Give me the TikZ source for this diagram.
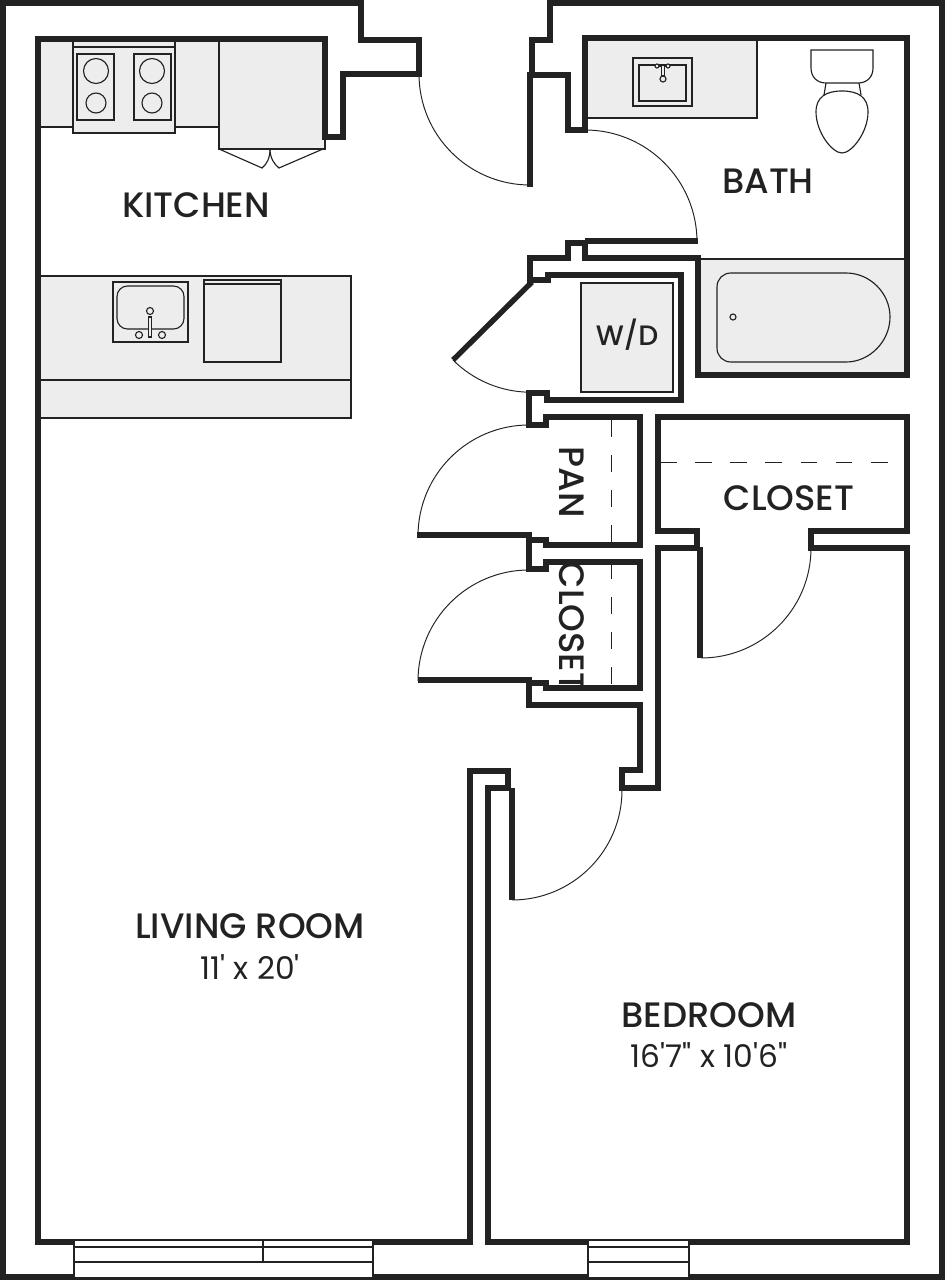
\documentclass[tikz,border=0pt]{standalone}
\usepackage{fontspec}
\setmainfont{Poppins}
\newfontfamily\namefont{Poppins Medium}
\newfontfamily\sizefont{Poppins}
\definecolor{wallink}{HTML}{222222}
\definecolor{counter}{HTML}{EDEDED}
\tikzset{
    wall/.style={draw=wallink,line width=3.05pt,miter limit=10},
    fixture/.style={draw=wallink,line width=.65pt},
    swing/.style={draw=wallink,line width=.55pt},
    guide/.style={draw=wallink,line width=.55pt,dash pattern=on 9.5pt off 10.5pt},
    roomname/.style={text=wallink,inner sep=0pt,font=\namefont\fontsize{20.1}{22}\selectfont},
    roomsize/.style={text=wallink,inner sep=0pt,font=\sizefont\fontsize{17.8}{20}\selectfont},
}
\begin{document}
\begin{tikzpicture}[x=.02cm,y=-.02cm]
    \useasboundingbox (0,0) rectangle (945,1280);
    % counters and appliances
    \draw[fixture,fill=counter] (38,39) rectangle (219,127);
    \draw[fixture,fill=counter] (73,39) rectangle (175,133);
    \draw[fixture] (73,47) -- (175,47);
    \draw[fixture] (77,54) rectangle (114,120);
    \draw[fixture] (134,54) rectangle (171,120);
    \foreach \burner in {96,152} {
        \draw[fixture] (\burner,71) circle (12.5);
        \draw[fixture] (\burner,103) circle (10);
    }
    \draw[fixture,fill=counter] (219,39) rectangle (325,149);
    \draw[fixture] (219,149) -- (262,168) .. controls (267,164) and (270,158) .. (270,149);
    \draw[fixture] (323,149) -- (279,168) .. controls (274,164) and (270,158) .. (270,149);
    \draw[fixture,fill=counter] (38,276) rectangle (351,418);
    \draw[fixture] (38,380) -- (351,380);
    \draw[fixture] (113,282) rectangle (188,342);
    \draw[fixture,rounded corners=6] (117,286) rectangle (184,329);
    \draw[fixture,fill=counter] (148.5,317) rectangle (151.5,337);
    \draw[fixture,fill=counter] (150,311) circle (3.5);
    \draw[fixture] (139,335) circle (3.5);
    \draw[fixture] (162,335) circle (3.5);
    \draw[fixture] (204,280) rectangle (281,362);
    \draw[fixture] (204,284) -- (281,284);
    % bath
    \draw[fixture,fill=counter] (585,38) rectangle (757,118);
    \draw[fixture] (633,58) rectangle (692,106);
    \draw[fixture] (639,65) rectangle (686,101);
    \draw[fixture] (657,66) -- (668,66);
    \draw[fixture,fill=counter] (657,66) circle (2);
    \draw[fixture,fill=counter] (668,66) circle (2);
    \draw[fixture,fill=counter] (661.5,65) rectangle (664.5,76);
    \draw[fixture,fill=counter] (663,79) circle (3);
    \draw[fixture] (811,50) -- (873,50) -- (873,68) .. controls (873,77) and (867,83) .. (858,83) -- (826,83) .. controls (817,83) and (811,77) .. (811,68) -- cycle;
    \draw[fixture] (826,83) -- (824,95);
    \draw[fixture] (859,83) -- (861,95);
    \draw[fixture] (842,91) .. controls (858,91) and (868,97) .. (868,112) .. controls (868,132) and (852,153) .. (842,153) .. controls (832,153) and (816,132) .. (816,112) .. controls (816,97) and (826,91) .. (842,91) -- cycle;
    \draw[fixture,fill=counter] (698,259) rectangle (907,375);
    \draw[fixture] (731,273) -- (846,273) .. controls (870,273) and (890,293) .. (890,317) .. controls (890,341) and (870,362) .. (846,362) -- (731,362) .. controls (723,362) and (717,356) .. (717,348) -- (717,287) .. controls (717,279) and (723,273) .. (731,273) -- cycle;
    \draw[fixture] (733,317) circle (3);
    \draw[fixture,fill=counter] (581,283) rectangle (673,392);
    % dashed shelf lines
    \draw[guide] (611,420) -- (611,545);
    \draw[guide] (611,562) -- (611,688);
    \draw[guide] (660,462) -- (905,462);
    % door swings
    \draw[swing] (419,74) arc (180:90:111);
    \draw[swing] (585,130) arc (270:360:112);
    \draw[swing] (453,360) arc (135:90:110);
    \draw[swing] (529,425) arc (270:180:111);
    \draw[swing] (529,570) arc (270:180:111);
    \draw[swing] (811,548) arc (0:90:110);
    \draw[swing] (622,790) arc (0:90:110);
    % walls
    \draw[wall] (532,75) -- (532,40) -- (550,40) -- (550,3) -- (942,3) -- (942,1277) -- (3,1277) -- (3,3) -- (361,3) -- (361,40) -- (419,40) -- (419,74) -- (343,74) -- (343,137) -- (325,137) -- (325,39) -- (38,39) -- (38,1242) -- (470,1242) -- (470,771) -- (508,771) -- (508,788) -- (488,788) -- (488,1242) -- (907,1242) -- (907,548) -- (811,548) -- (811,531) -- (907,531) -- (907,417) -- (658,417) -- (658,531) -- (697,531) -- (697,548) -- (658,548) -- (658,788) -- (622,788) -- (622,770) -- (640,770) -- (640,705) -- (529,705) -- (529,680) -- (418,680);
    \draw[wall] (512,788) -- (512,900);
    \draw[wall] (700,547) -- (700,658);
    \draw[wall] (529,680) -- (529,683) -- (546,683) -- (546,688) -- (640,688) -- (640,562) -- (546,562) -- (546,569) -- (529,569) -- (529,540) -- (546,540) -- (546,545) -- (640,545) -- (640,417) -- (546,417) -- (546,425) -- (529,425) -- (529,393) -- (547,393) -- (547,400) -- (681,400) -- (681,275) -- (548,275) -- (548,280) -- (530,280) -- (530,258) -- (568,258) -- (568,243) -- (585,243) -- (585,258) -- (698,258) -- (698,375) -- (907,375) -- (907,38) -- (585,38) -- (585,130) -- (568,130) -- (568,75) -- (530,75) -- (530,187);
    \draw[wall] (532,282) -- (453,360);
    \draw[wall] (417,535) -- (529,535) -- (529,540);
    \draw[wall] (585,241) -- (698,241);
    % windows
    \foreach \winleft/\winright in {74/373,588/689} {
        \draw[fixture,fill=white] (\winleft,1240) rectangle (\winright,1278);
        \draw[fixture] (\winleft,1247) -- (\winright,1247);
        \draw[fixture] (\winleft,1262) -- (\winright,1262);
    }
    \draw[fixture] (263,1240) -- (263,1262);
    % labels
    \node[roomname] (kitchen) at (196,205) {KITCHEN};
    \node[roomname] (bath) at (768,181) {BATH};
    \node[roomname,font=\namefont\fontsize{16}{18}\selectfont] (washer) at (627,335) {W/D};
    \node[roomname,rotate=-90] (pantry) at (572,482) {PAN};
    \node[roomname,rotate=-90] (hallcloset) at (572,627) {CLOSET};
    \node[roomname] (bedcloset) at (789,498) {CLOSET};
    \node[roomname] (living) at (250,926) {LIVING ROOM};
    \node[roomsize] (livingsize) at (250,967) {11' x 20'};
    \node[roomname] (bedroom) at (709,1015) {BEDROOM};
    \node[roomsize] (bedroomsize) at (709,1055) {16'7" x 10'6"};
\end{tikzpicture}
\end{document}
